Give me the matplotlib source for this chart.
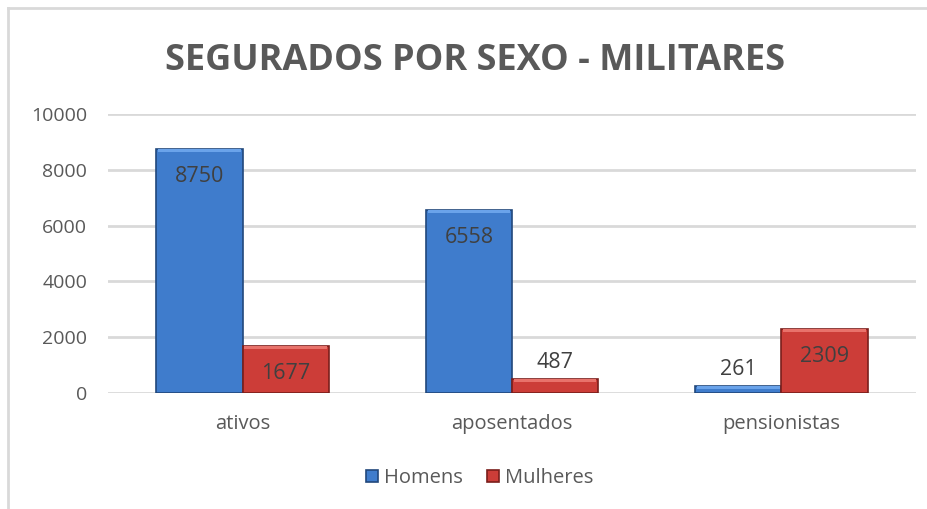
import numpy as np
import matplotlib.pyplot as plt
from matplotlib.lines import Line2D

# dados
categorias = ['ativos', 'aposentados', 'pensionistas']
homens = [8750, 6558, 261]
mulheres = [1677, 487, 2309]
series = ['Homens', 'Mulheres']

cor_azul = '#3f7ccc'
cor_azul_borda = '#21487c'
cor_vermelho = '#cc3d38'
cor_vermelho_borda = '#7a1e1b'
cinza = '#595959'

plt.rcParams['font.family'] = ['Open Sans', 'DejaVu Sans']

W, H = 927, 509
fig = plt.figure(figsize=(W / 100, H / 100), dpi=100)
ax = fig.add_axes([108 / W, 1 - 393 / H, 808 / W, 279 / H])

# moldura do gráfico (só topo e esquerda aparecem)
fig.lines.append(Line2D([8 / W, 8 / W], [0, 1 - 8 / H], transform=fig.transFigure,
                        color='#d9d9d9', linewidth=2))
fig.lines.append(Line2D([8 / W, 1], [1 - 8 / H, 1 - 8 / H], transform=fig.transFigure,
                        color='#d9d9d9', linewidth=2))

x = np.arange(len(categorias))
largura = 0.32

b1 = ax.bar(x - largura / 2, homens, largura, color=cor_azul,
            edgecolor=cor_azul_borda, linewidth=1.2, label=series[0], zorder=3)
b2 = ax.bar(x + largura / 2, mulheres, largura, color=cor_vermelho,
            edgecolor=cor_vermelho_borda, linewidth=1.2, label=series[1], zorder=3)

# faixa clara no topo (efeito de bisel)
for barras, clara in ((b1, '#6aa3ea'), (b2, '#e8726b')):
    for r in barras:
        h = r.get_height()
        ax.bar(r.get_x() + r.get_width() / 2, min(110, h), r.get_width() * 0.96,
               bottom=h - min(110, h), color=clara, linewidth=0, zorder=4)

# rótulos de valores
for barras, vals in ((b1, homens), (b2, mulheres)):
    for r, v in zip(barras, vals):
        cx = r.get_x() + r.get_width() / 2
        dy = -20 if v > 1000 else 12
        ax.annotate(str(v), (cx, v), xytext=(0, dy), textcoords='offset points',
                    ha='center', va='center', fontsize=15.5, color='#404040', zorder=5)

ax.set_xlim(-0.5, len(categorias) - 0.5)
ax.set_ylim(0, 10000)
ax.set_yticks(np.arange(0, 10001, 2000))
ax.yaxis.grid(True, color='#d9d9d9', linewidth=2, zorder=0)
ax.set_axisbelow(True)
for s in ax.spines.values():
    s.set_visible(False)
ax.tick_params(axis='both', length=0, labelsize=14, colors=cinza)
ax.tick_params(axis='y', pad=15)
ax.tick_params(axis='x', labelsize=14.5, pad=15)
ax.set_xticks(x)
ax.set_xticklabels(categorias)

fig.text(475 / W, 1 - 61 / H, 'SEGURADOS POR SEXO - MILITARES', ha='center',
         va='center', fontsize=26, fontweight='bold', color=cinza)

fig.legend(handles=[b1, b2], labels=series, loc='center',
           bbox_to_anchor=(480 / W, 1 - 478 / H), ncol=2, frameon=False,
           fontsize=14.5, handlelength=0.6, handleheight=0.6,
           handletextpad=0.3, columnspacing=1.2, labelcolor=cinza)

fig.savefig('out.png', dpi=100, facecolor='white')
